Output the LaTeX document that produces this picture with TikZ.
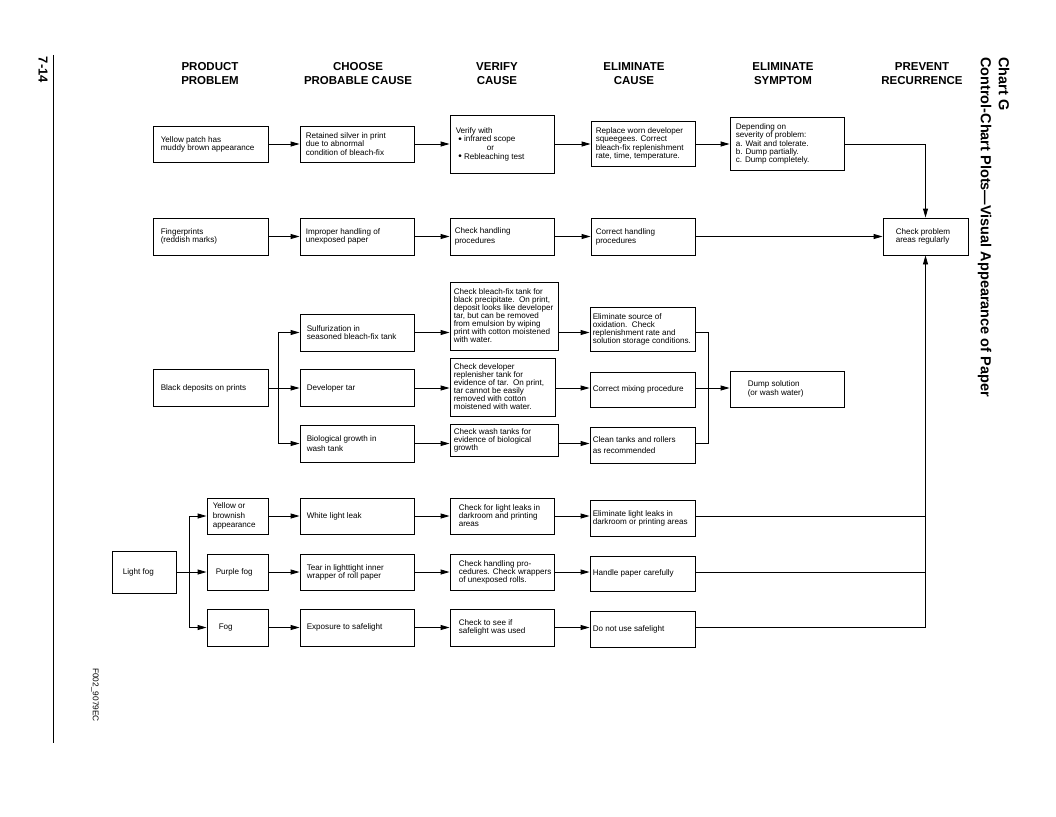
\documentclass[tikz,border=0pt]{standalone}
\usepackage{fontspec}
\setmainfont{Liberation Sans}
\usetikzlibrary{arrows.meta}
\newcommand\bxnode[8][]{%
  \node[bx, minimum width=#5pt, minimum height=#6pt] (#2) at (#3,#4) {};
  \node[txt, anchor=west, #1] (#2t) at ([xshift=#7pt]#2.west) {#8};
}
\newcommand\lsp[1]{\fontsize{8.1}{#1}\selectfont}
\newcommand\bigbul{\raisebox{-0.7pt}{\fontsize{10}{8}\selectfont\textbullet}}
\begin{document}
\begin{tikzpicture}[x=1pt,y=-1pt,
  bx/.style={draw, line width=0.9pt, inner sep=0pt},
  txt/.style={inner sep=0pt, align=left, font=\lsp{8}},
  hd/.style={font=\fontsize{11.5}{14}\selectfont\bfseries, align=center, inner sep=0pt},
  ar/.style={line width=0.9pt, -{Triangle[length=9pt,width=5pt]}},
  ln/.style={line width=0.9pt},
]
\useasboundingbox (0,0) rectangle (1056,816);

% margin texts
\node[rotate=-90, font=\fontsize{13}{13}\selectfont\bfseries, inner sep=0pt] (pg) at (43,70) {7-14};
\draw[line width=1pt] (53,55) -- (53,743);
\node[rotate=-90, font=\fontsize{8.3}{8.3}\selectfont, inner sep=0pt] (fig) at (95,695) {F002\_9079EC};
\node[rotate=-90, anchor=north west, align=left, inner sep=0pt,
      font=\fontsize{14.5}{18}\selectfont\bfseries] (title) at (1009.5,57)
      {Chart G\\Control-Chart Plots---Visual Appearance of Paper};

% headers
\node[hd] (h1) at (210,73.5) {PRODUCT\\PROBLEM};
\node[hd] (h2) at (358,73.5) {CHOOSE\\PROBABLE CAUSE};
\node[hd] (h3) at (497,73.5) {VERIFY\\CAUSE};
\node[hd] (h4) at (634,73.5) {ELIMINATE\\CAUSE};
\node[hd] (h5) at (783,73.5) {ELIMINATE\\SYMPTOM};
\node[hd] (h6) at (922,73.5) {PREVENT\\RECURRENCE};

% row 1
\bxnode{A1}{210.5}{144}{115}{36}{8}{Yellow patch has\\muddy brown appearance}
\bxnode[font=\lsp{8.2}]{B1}{357}{144}{114}{36}{6}{Retained silver in print\\due to abnormal\\condition of bleach-fix}
\bxnode[font=\lsp{8.7}]{C1}{502}{144}{104}{58}{6}{Verify with\\\hspace*{2.5pt}\bigbul\ infrared scope\\\hspace*{31pt}or\\\hspace*{2.5pt}\bigbul\ Rebleaching test}
\bxnode[font=\lsp{8.3}]{D1}{643}{144}{104}{45}{5}{Replace worn developer\\squeegees. Correct\\bleach-fix replenishment\\rate, time, temperature.}
\bxnode[font=\lsp{8.3}]{E1}{787}{144}{114}{53}{6}{Depending on\\severity of problem:\\a. Wait and tolerate.\\b. Dump partially.\\c. Dump completely.}
\bxnode{F}{925.5}{236.5}{85}{37}{13}{Check problem\\areas regularly}

% row 2
\bxnode{A2}{210.5}{236.5}{115}{37}{8}{Fingerprints\\(reddish marks)}
\bxnode{B2}{357}{236.5}{114}{37}{6}{Improper handling of\\unexposed paper}
\bxnode[font=\lsp{9.5}]{C2}{502}{236.5}{104}{37}{5}{Check handling\\procedures}
\bxnode[font=\lsp{9.5}]{D2}{643}{237}{104}{37}{5}{Correct handling\\procedures}

% row 3
\bxnode{A3}{210.5}{388}{115}{37}{8}{Black deposits on prints}
\bxnode{B3a}{357}{332.5}{114}{37}{7}{Sulfurization in\\seasoned bleach-fix tank}
\bxnode{B3b}{357}{388}{114}{37}{7}{Developer tar}
\bxnode[font=\lsp{9.5}]{B3c}{357}{443.5}{114}{37}{7}{Biological growth in\\wash tank}
\bxnode{C3a}{504}{316}{108}{68}{4}{Check bleach-fix tank for\\black precipitate.\ \ On print,\\deposit looks like developer\\tar, but can be removed\\from emulsion by wiping\\print with cotton moistened\\with water.}
\bxnode{C3b}{502.5}{387}{105}{58}{4}{Check developer\\replenisher tank for\\evidence of tar.\ \ On print,\\tar cannot be easily\\removed with cotton\\moistened with water.}
\bxnode{C3c}{504}{440}{108}{32}{4}{Check wash tanks for\\evidence of biological\\growth}
\bxnode{D3a}{642.5}{329}{105}{44}{3}{Eliminate source of\\oxidation.\ \ Check\\replenishment rate and\\solution storage conditions.}
\bxnode{D3b}{642.5}{389.5}{105}{35}{3}{Correct mixing procedure}
\bxnode[font=\lsp{10.5}]{D3c}{642.5}{445}{105}{36}{3}{Clean tanks and rollers\\as recommended}
\bxnode[font=\lsp{9}]{E3}{787}{389}{114}{36}{18}{Dump solution\\(or wash water)}

% row 4
\bxnode{A4}{144}{572}{64}{42}{11}{Light fog}
\bxnode[font=\lsp{9.5}]{A4a}{237.5}{516}{61}{36}{6}{Yellow or\\brownish\\appearance}
\bxnode{A4b}{237.5}{572}{61}{36}{9}{Purple fog}
\bxnode{A4c}{237.5}{627.5}{61}{37}{12}{Fog}
\bxnode{B4a}{357}{516}{114}{36}{7}{White light leak}
\bxnode{B4b}{357}{572}{114}{36}{7}{Tear in lighttight inner\\wrapper of roll paper}
\bxnode{B4c}{357}{627.5}{114}{37}{7}{Exposure to safelight}
\bxnode{C4a}{502}{516}{104}{36}{9}{Check for light leaks in\\darkroom and printing\\areas}
\bxnode{C4b}{502}{572}{104}{36}{9}{Check handling pro-\\cedures. Check wrappers\\of unexposed rolls.}
\bxnode{C4c}{502}{627.5}{104}{37}{9}{Check to see if\\safelight was used}
\bxnode{D4a}{642.5}{518}{105}{36}{3}{Eliminate light leaks in\\darkroom or printing areas}
\bxnode{D4b}{642.5}{573.5}{105}{35}{3}{Handle paper carefully}
\bxnode{D4c}{642.5}{629}{105}{36}{3}{Do not use safelight}

% connectors row 1
\draw[ar] (A1) -- (B1);
\draw[ar] (B1) -- (C1);
\draw[ar] (C1) -- (D1);
\draw[ar] (D1) -- (E1);
\draw[ar] (E1.east) -| (F.north);

% row 2
\draw[ar] (A2) -- (B2);
\draw[ar] (B2) -- (C2);
\draw[ar] (C2.east) -- (C2.east -| D2.west);
\draw[ar] (D2.east |- C2.east) -- (F.west);

% row 3
\coordinate (j3) at (278,388);
\draw[ar] (A3) -- (B3b);
\draw[ln] (j3 |- B3a.west) -- (j3 |- B3c.west);
\draw[ar] (j3 |- B3a.west) -- (B3a.west);
\draw[ar] (j3 |- B3c.west) -- (B3c.west);
\draw[ar] (B3a.east) -- (B3a.east -| C3a.west);
\draw[ar] (B3b.east) -- (B3b.east -| C3b.west);
\draw[ar] (B3c.east) -- (B3c.east -| C3c.west);
\draw[ar] (C3a.east |- B3a.east) -- (D3a.west |- B3a.east);
\draw[ar] (C3b.east |- B3b.east) -- (D3b.west |- B3b.east);
\draw[ar] (C3c.east |- B3c.east) -- (D3c.west |- B3c.east);
\coordinate (m3) at (708,388);
\draw[ln] (D3a.east |- B3a.east) -- (m3 |- B3a.east) -- (m3 |- B3c.east) -- (D3c.east |- B3c.east);
\draw[ar] (D3b.east |- B3b.east) -- (E3.west |- B3b.east);

% row 4
\coordinate (j4) at (189,572);
\draw[ar] (A4) -- (A4b);
\draw[ln] (j4 |- A4a.west) -- (j4 |- A4c.west);
\draw[ar] (j4 |- A4a.west) -- (A4a.west);
\draw[ar] (j4 |- A4c.west) -- (A4c.west);
\draw[ar] (A4a) -- (B4a);
\draw[ar] (A4b) -- (B4b);
\draw[ar] (A4c) -- (B4c);
\draw[ar] (B4a) -- (C4a);
\draw[ar] (B4b) -- (C4b);
\draw[ar] (B4c) -- (C4c);
\draw[ar] (C4a.east) -- (C4a.east -| D4a.west);
\draw[ar] (C4b.east) -- (C4b.east -| D4b.west);
\draw[ar] (C4c.east) -- (C4c.east -| D4c.west);
\draw[ln] (D4a.east |- C4a.east) -- (F.south |- C4a.east);
\draw[ln] (D4b.east |- C4b.east) -- (F.south |- C4b.east);
\draw[ar] (D4c.east |- C4c.east) -| (F.south);
\end{tikzpicture}
\end{document}
